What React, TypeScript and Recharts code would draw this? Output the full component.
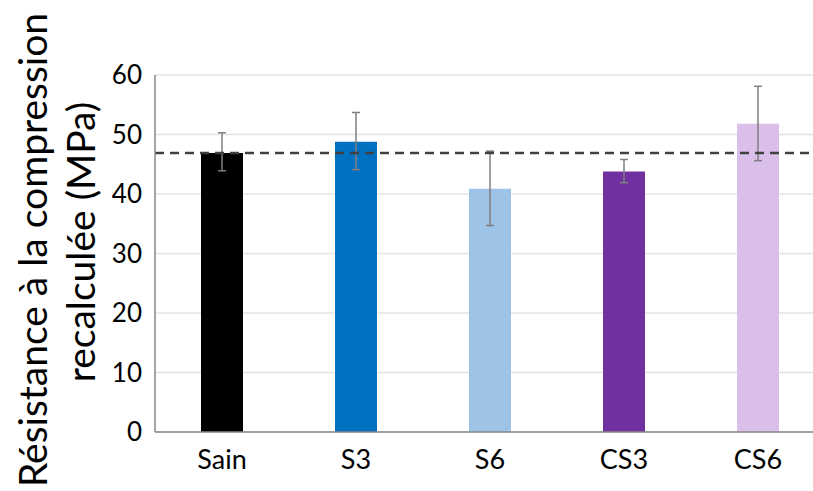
import { BarChart, Bar, Cell, XAxis, YAxis, CartesianGrid, ErrorBar, ReferenceLine } from 'recharts';

const categories = ['Sain', 'S3', 'S6', 'CS3', 'CS6'];
const means = [46.9, 48.8, 40.9, 43.8, 51.8];
const errLow = [3.0, 4.7, 6.2, 1.9, 6.2];
const errHigh = [3.4, 4.9, 6.3, 2.0, 6.3];
const barColors = ['#000000', '#0070c0', '#9dc3e6', '#7030a0', '#d9bfea'];
const yTicks = [0, 10, 20, 30, 40, 50, 60];
const refValue = 46.9;

const data = categories.map((name, i) => ({ name, value: means[i], err: [errLow[i], errHigh[i]] }));

const FONT = 'Lato, "Open Sans", sans-serif';

function YTitle() {
  return (
    <g fill="#000" fontFamily={FONT} fontSize={39}>
      <text x={47} y={250} textAnchor="middle" transform="rotate(-90 47 250)">Résistance à la compression</text>
      <text x={95} y={242} textAnchor="middle" transform="rotate(-90 95 242)">recalculée (MPa)</text>
    </g>
  );
}

export default function App() {
  return (
    <div style={{ position: 'fixed', left: 0, top: 0, width: 813, height: 491, overflow: 'hidden', background: '#fff' }}>
      <BarChart width={825} height={491} data={data} margin={{ top: 75, right: 0, bottom: 0, left: 0 }}>
        <CartesianGrid vertical={false} stroke="#e3e3e3" strokeWidth={1.5} />
        <XAxis
          dataKey="name"
          height={59}
          tickSize={0}
          tickMargin={18}
          axisLine={{ stroke: '#898989', strokeWidth: 1.5 }}
          tick={{ fill: '#000', fontSize: 27, fontFamily: FONT }}
        />
        <YAxis
          width={155}
          domain={[0, 60]}
          ticks={yTicks}
          tickSize={0}
          tickMargin={13}
          axisLine={{ stroke: '#898989', strokeWidth: 1.5 }}
          tick={{ fill: '#000', fontSize: 26, fontFamily: FONT }}
          label={{ content: () => <YTitle /> }}
        />
        <Bar dataKey="value" barSize={42} isAnimationActive={false}>
          {data.map((d, i) => <Cell key={d.name} fill={barColors[i]} />)}
          <ErrorBar dataKey="err" stroke="#7f7f7f" strokeWidth={1.5} width={4} isAnimationActive={false} />
        </Bar>
        <ReferenceLine y={refValue} stroke="#404040" strokeWidth={2.5} strokeDasharray="9 6" />
      </BarChart>
    </div>
  );
}
